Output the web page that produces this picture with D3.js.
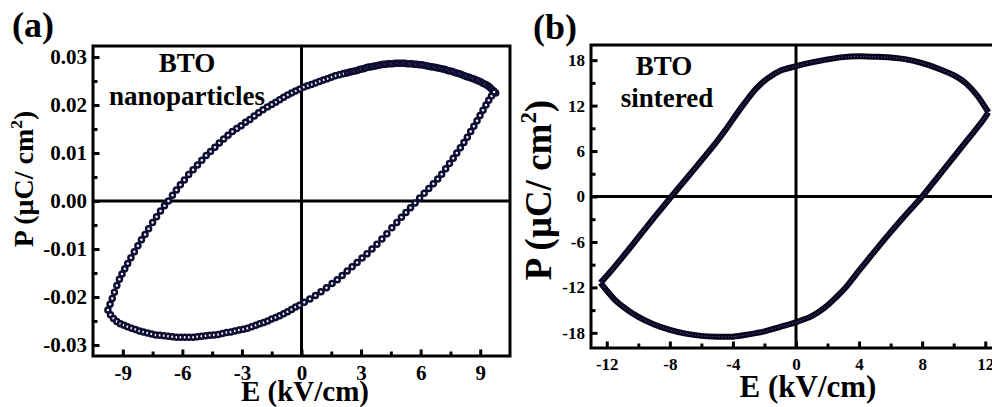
<!DOCTYPE html>
<html>
<head>
<meta charset="utf-8">
<script src="https://cdn.jsdelivr.net/npm/d3@7"></script>
<style>
  body { margin: 0; background: #fff; }
  svg { display: block; }
  text { font-family: "Liberation Serif", "Times New Roman", serif; font-weight: bold; fill: #000; }
</style>
</head>
<body>
<svg id="chart" width="992" height="407"></svg>
<script>
// ---------- (a) BTO nanoparticles : P–E loop, E in kV/cm, P in µC/cm² ----------
// descending-field branch (from +Emax to -Emax)
const nanoUpperE = [
  9.78,9.68,9.58,9.48,9.38,9.28,9.16,9.04,8.92,8.80,
  8.68,8.56,8.44,8.32,8.20,8.08,7.96,7.84,7.72,7.60,
  7.48,7.36,7.24,7.12,7.00,6.88,6.76,6.64,6.52,6.40,
  6.28,6.16,6.04,5.92,5.80,5.68,5.56,5.44,5.32,5.20,
  5.08,4.96,4.84,4.72,4.60,4.48,4.36,4.24,4.12,4.00,
  3.88,3.76,3.64,3.52,3.40,3.28,3.16,3.04,2.92,2.80,
  2.68,2.56,2.44,2.32,2.20,2.08,
  1.90,1.70,1.50,1.30,1.10,0.90,0.70,0.50,0.30,0.10,
  -0.10,-0.30,-0.50,-0.70,-0.90,-1.10,-1.30,-1.50,
  -1.72,-1.94,-2.16,-2.38,-2.60,-2.82,-3.04,-3.26,-3.48,-3.70,
  -3.92,-4.14,-4.36,-4.58,-4.80,-5.02,-5.24,-5.46,-5.68,-5.90,
  -6.10,-6.30,-6.50,-6.70,
  -6.90,-7.10,-7.30,-7.50,-7.70,-7.88,-8.06,-8.24,-8.42,-8.59,
  -8.75,-8.90,-9.04,-9.17,-9.30,-9.42,-9.53,-9.64,-9.75
];
const nanoUpperP = [
  .0225,.0229,.0233,.0237,.0240,.0243,.0245,.0248,.0250,.0252,
  .0254,.0256,.0258,.0259,.0261,.0263,.0265,.0266,.0268,.0270,
  .0271,.0272,.0274,.0275,.0276,.0277,.0278,.0279,.0280,.0281,
  .0282,.0283,.0284,.0284,.0285,.0285,.0286,.0286,.0286,.0287,
  .0287,.0287,.0287,.0287,.0286,.0286,.0286,.0285,.0285,.0284,
  .0283,.0282,.0281,.0280,.0279,.0278,.0276,.0275,.0274,.0272,
  .0271,.0270,.0269,.0267,.0266,.0265,
  .0263,.0261,.0258,.0255,.0252,.0249,.0246,.0243,.0240,.0237,
  .0233,.0229,.0225,.0221,.0216,.0211,.0206,.0201,
  .0196,.0190,.0184,.0177,.0170,.0164,.0157,.0151,.0145,.0137,
  .0129,.0121,.0112,.0103,.0095,.0085,.0075,.0065,.0055,.0044,
  .0034,.0023,.0012,.0000,
  -.0010,-.0021,-.0033,-.0045,-.0058,-.0070,-.0081,-.0093,-.0106,-.0118,
  -.0130,-.0141,-.0152,-.0163,-.0176,-.0190,-.0203,-.0215,-.0227
];
// ascending-field branch (from -Emax back to +Emax)
const nanoLowerE = [
  -9.62,-9.47,-9.30,-9.12,-8.94,-8.76,-8.56,-8.36,-8.16,-7.96,
  -7.76,-7.55,-7.34,-7.13,-6.92,-6.71,-6.50,-6.29,-6.08,-5.87,
  -5.66,-5.45,-5.24,-5.03,-4.82,-4.61,-4.40,-4.19,-3.98,-3.77,
  -3.56,-3.35,-3.14,-2.93,-2.72,-2.51,-2.30,-2.10,-1.90,-1.70,
  -1.50,-1.30,-1.10,-0.90,-0.70,-0.50,-0.30,-0.10,
  0.14,0.42,0.70,0.98,1.26,1.54,1.80,2.05,2.30,2.55,
  2.80,3.05,3.30,3.55,3.80,4.05,4.30,4.55,4.80,5.03,
  5.26,5.49,5.72,5.95,6.18,6.41,6.64,6.86,7.06,7.26,
  7.45,7.64,7.82,8.00,8.18,8.35,8.52,8.68,8.84,8.99,
  9.14,9.29,9.43,9.57,9.70
];
const nanoLowerP = [
  -.0237,-.0245,-.0251,-.0256,-.0259,-.0262,-.0265,-.0268,-.0271,-.0273,
  -.0275,-.0277,-.0279,-.0280,-.0281,-.0282,-.0283,-.0284,-.0284,-.0284,
  -.0284,-.0284,-.0283,-.0282,-.0281,-.0280,-.0279,-.0278,-.0276,-.0274,
  -.0273,-.0271,-.0269,-.0267,-.0265,-.0262,-.0259,-.0256,-.0253,-.0250,
  -.0246,-.0243,-.0239,-.0235,-.0231,-.0226,-.0221,-.0217,
  -.0211,-.0204,-.0197,-.0189,-.0181,-.0172,-.0164,-.0155,-.0146,-.0137,
  -.0128,-.0119,-.0110,-.0100,-.0090,-.0079,-.0068,-.0056,-.0045,-.0034,
  -.0024,-.0014,-.0004,.0006,.0016,.0026,.0036,.0046,.0056,.0067,
  .0078,.0089,.0100,.0111,.0122,.0133,.0145,.0156,.0167,.0178,
  .0189,.0200,.0210,.0219,.0227
];
const nanoTicksE = [-9, -6, -3, 0, 3, 6, 9];
const nanoMinorE = [-7.5, -4.5, -1.5, 1.5, 4.5, 7.5];
const nanoTicksP = [-0.03, -0.02, -0.01, 0, 0.01, 0.02, 0.03];
const nanoMinorP = [-0.025, -0.015, -0.005, 0.005, 0.015, 0.025];

// ---------- (b) BTO sintered : P–E loop ----------
const sintUpperE = [12.2,11.5,10.8,10.2,9.0,8.0,7.0,6.0,5.0,4.0,3.0,2.0,1.0,0.0,-1.0,-1.8,-2.5,-3.2,-3.8,-4.5,-5.0,-6.0,-7.0,-7.9,-9.0,-10.0,-11.0,-11.8,-12.4];
const sintUpperP = [11.1,13.3,14.9,15.8,16.9,17.6,18.1,18.35,18.45,18.5,18.4,18.1,17.7,17.2,16.6,15.6,14.3,12.5,10.8,8.7,7.3,4.75,2.25,0.0,-2.8,-5.4,-8.0,-10.0,-11.4];
const sintLowerE = [-12.4,-11.5,-11.0,-10.0,-9.0,-8.0,-7.0,-6.0,-5.0,-4.0,-3.0,-2.0,-1.0,0.0,1.0,1.8,2.5,3.2,3.8,4.5,5.0,6.0,7.0,8.0,9.0,10.0,11.0,11.8,12.2];
const sintLowerP = [-11.4,-13.6,-14.5,-15.9,-16.9,-17.6,-18.1,-18.4,-18.5,-18.5,-18.2,-17.8,-17.2,-16.6,-15.8,-14.7,-13.4,-11.9,-10.3,-8.5,-7.2,-4.7,-2.3,0.0,2.6,5.2,7.8,9.9,11.1];
const sintTicksE = [-12, -8, -4, 0, 4, 8, 12];
const sintMinorE = [-10, -6, -2, 2, 6, 10];
const sintTicksP = [-18, -12, -6, 0, 6, 12, 18];
const sintMinorP = [-15, -9, -3, 3, 9, 15];

const svg = d3.select("#chart");
const INK = "#000";
const RULE = 3;

// frame, inward ticks, tick labels and the two zero lines of one panel
function drawFrame(x, y, o) {
  const g = svg.append("g");
  const [x0, x1] = x.range(), [y0, y1] = y.range();

  const styleAxis = sel => {
    sel.select(".domain").remove();
    sel.selectAll(".tick line").attr("stroke", INK).attr("stroke-width", RULE);
    sel.selectAll(".tick text")
      .attr("font-family", "'Liberation Serif', 'Times New Roman', serif")
      .attr("font-weight", "bold").attr("font-size", o.tickFont).attr("fill", INK);
  };

  g.append("g").attr("transform", `translate(0,${y0})`)
    .call(d3.axisBottom(x).tickValues(o.xMajor).tickSize(-6.5).tickPadding(o.padX).tickFormat(o.fmtX))
    .call(styleAxis);
  g.append("g").attr("transform", `translate(0,${y0})`)
    .call(d3.axisBottom(x).tickValues(o.xMinor).tickSize(-4.5).tickFormat(""))
    .call(styleAxis);
  g.append("g").attr("transform", `translate(${x0},0)`)
    .call(d3.axisLeft(y).tickValues(o.yMajor).tickSize(-6.5).tickPadding(o.padY).tickFormat(o.fmtY))
    .call(styleAxis);
  g.append("g").attr("transform", `translate(${x0},0)`)
    .call(d3.axisLeft(y).tickValues(o.yMinor).tickSize(-4.5).tickFormat(""))
    .call(styleAxis);

  // zero lines
  g.append("line").attr("x1", x0).attr("x2", x1).attr("y1", y(0)).attr("y2", y(0))
    .attr("stroke", INK).attr("stroke-width", RULE);
  g.append("line").attr("x1", x(0)).attr("x2", x(0)).attr("y1", y0).attr("y2", y1)
    .attr("stroke", INK).attr("stroke-width", RULE);

  // box
  g.append("rect").attr("x", x0).attr("y", y1).attr("width", x1 - x0).attr("height", y0 - y1)
    .attr("fill", "none").attr("stroke", INK).attr("stroke-width", RULE);
}

// axis title for P with superscript
function pTitle(cx, cy, size) {
  const t = svg.append("text")
    .attr("transform", `translate(${cx},${cy}) rotate(-90)`)
    .attr("text-anchor", "middle").attr("font-size", size);
  t.append("tspan").text("P (\u03BCC/ cm");
  t.append("tspan").attr("font-size", size * 0.62).attr("dy", -size * 0.4).text("2");
  t.append("tspan").attr("dy", size * 0.4).text(")");
}

// ---------- panel (a) ----------
const xa = d3.scaleLinear().domain([-10.5, 10.5]).range([93, 510]);
const ya = d3.scaleLinear().domain([-0.0323, 0.0323]).range([356, 46]);

drawFrame(xa, ya, {
  xMajor: nanoTicksE, xMinor: nanoMinorE, yMajor: nanoTicksP, yMinor: nanoMinorP,
  fmtX: d => String(d), fmtY: d => d.toFixed(2),
  tickFont: 21, padX: 9, padY: 6
});

const nanoPts = d3.zip(nanoUpperE, nanoUpperP).concat(d3.zip(nanoLowerE, nanoLowerP));
svg.append("g").selectAll("circle").data(nanoPts).join("circle")
  .attr("cx", d => xa(d[0])).attr("cy", d => ya(d[1]))
  .attr("r", 2.5)
  .attr("fill", "#f4f4ff").attr("stroke", "#0e0c30").attr("stroke-width", 2.5);

svg.append("text").attr("x", 187).attr("y", 72).attr("text-anchor", "middle")
  .attr("font-size", 27).text("BTO");
svg.append("text").attr("x", 187).attr("y", 105).attr("text-anchor", "middle")
  .attr("font-size", 27).text("nanoparticles");

svg.append("text").attr("x", 305).attr("y", 401).attr("text-anchor", "middle")
  .attr("font-size", 29).text("E (kV/cm)");
pTitle(33, 179, 28);
svg.append("text").attr("x", 12).attr("y", 37).attr("font-size", 36).text("(a)");

// ---------- panel (b) ----------
const xb = d3.scaleLinear().domain([-13, 13]).range([591, 1001]);
const yb = d3.scaleLinear().domain([-20, 20]).range([348, 45]);

drawFrame(xb, yb, {
  xMajor: sintTicksE, xMinor: sintMinorE, yMajor: sintTicksP, yMinor: sintMinorP,
  fmtX: d => String(d), fmtY: d => String(d),
  tickFont: 17, padX: 10, padY: 6
});

const loopLine = d3.line().x(d => xb(d[0])).y(d => yb(d[1])).curve(d3.curveCatmullRom.alpha(0.5));
const sintBranches = [d3.zip(sintUpperE, sintUpperP), d3.zip(sintLowerE, sintLowerP)];
const gb = svg.append("g");
sintBranches.forEach(br => {
  gb.append("path").attr("d", loopLine(br)).attr("fill", "none")
    .attr("stroke", "#07061c").attr("stroke-width", 6).attr("stroke-linejoin", "round");
});
sintBranches.forEach(br => {
  gb.append("path").attr("d", loopLine(br)).attr("fill", "none")
    .attr("stroke", "#6a6ad0").attr("stroke-width", 0.9).attr("stroke-dasharray", "1 2");
});

svg.append("text").attr("x", 664).attr("y", 75).attr("text-anchor", "middle")
  .attr("font-size", 27).text("BTO");
svg.append("text").attr("x", 667).attr("y", 107).attr("text-anchor", "middle")
  .attr("font-size", 27).text("sintered");

svg.append("text").attr("x", 808).attr("y", 397).attr("text-anchor", "middle")
  .attr("font-size", 31).text("E (kV/cm)");
pTitle(551, 190, 37);
svg.append("text").attr("x", 533).attr("y", 39).attr("font-size", 36).text("(b)");
</script>
</body>
</html>
